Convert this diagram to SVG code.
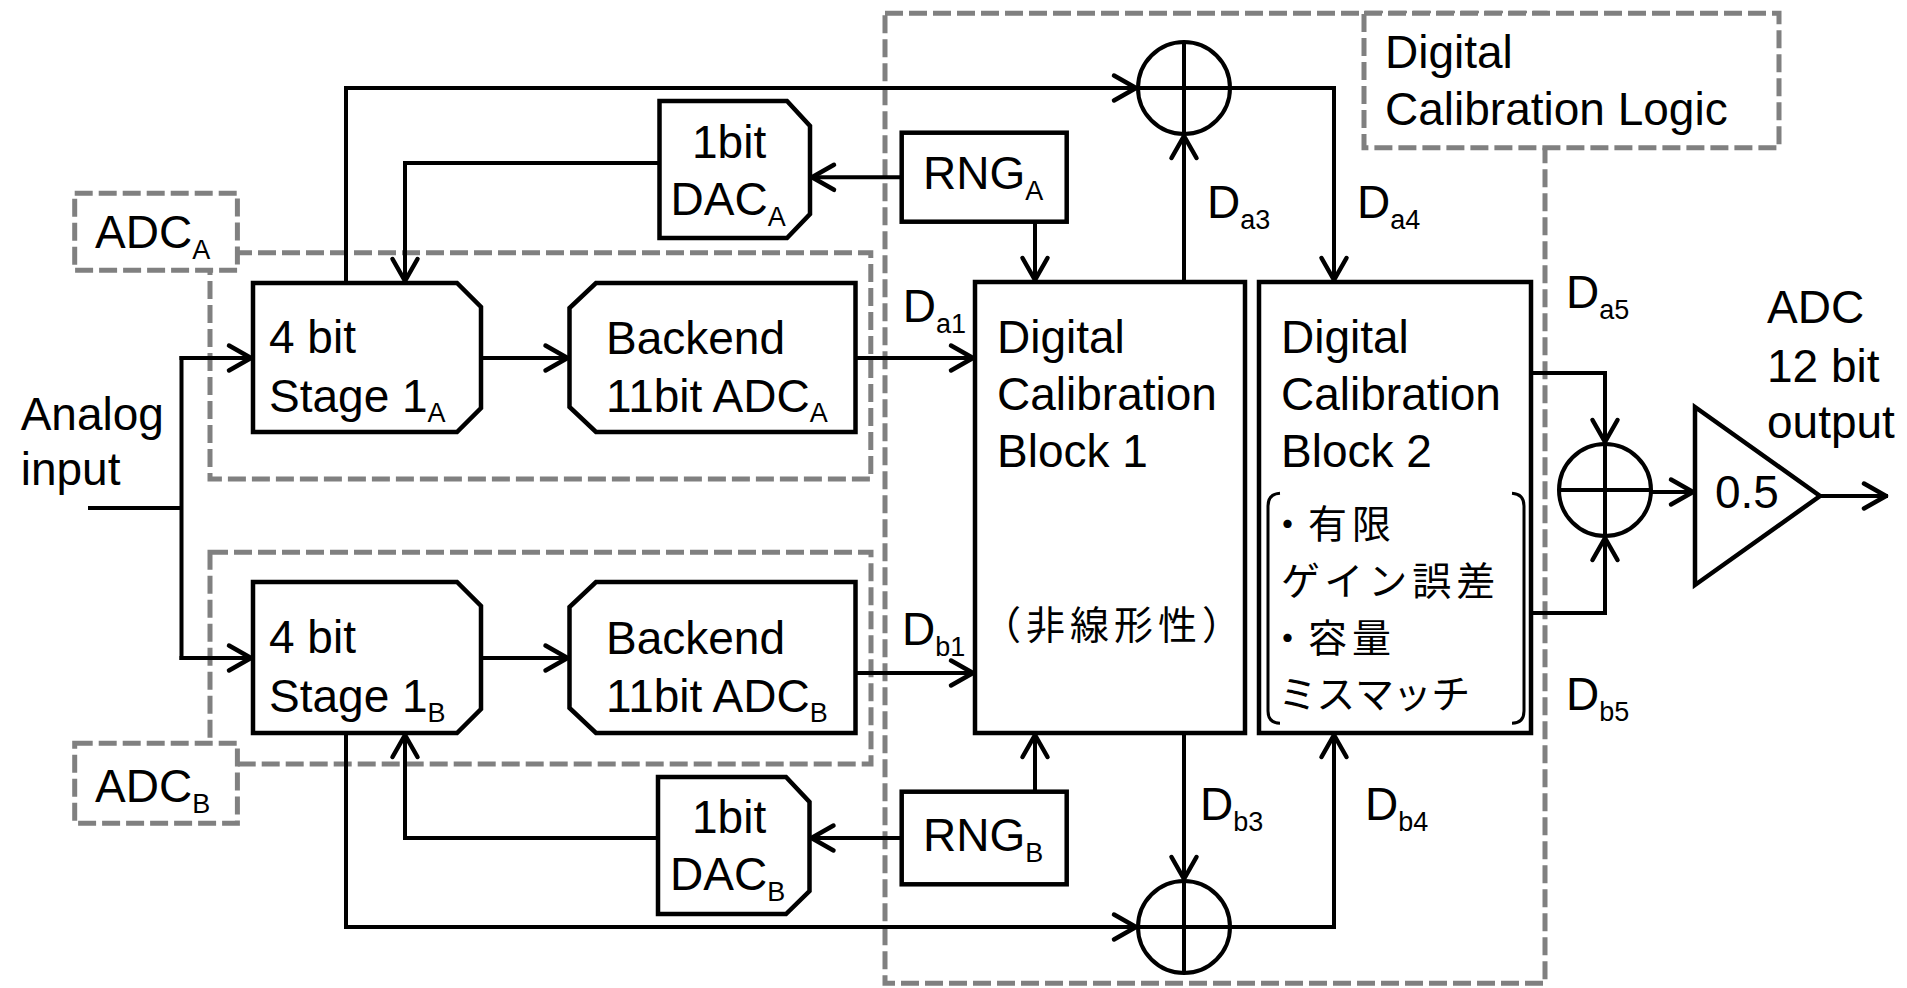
<svg xmlns="http://www.w3.org/2000/svg" width="1907" height="988" viewBox="0 0 1907 988">
<style>
.t{font-family:"Liberation Sans",Arial,sans-serif;font-size:46px;fill:#000}
.j{font-family:"Noto Sans CJK JP","Liberation Sans",sans-serif;font-size:39px;letter-spacing:5px;fill:#000}
.d{letter-spacing:0}
.s{font-size:27px}
.box{fill:#fff;stroke:#000;stroke-width:4.5;stroke-linejoin:miter}
.dash{fill:none;stroke:#808080;stroke-width:5;stroke-dasharray:18 6}
.dashw{fill:#fff;stroke:#808080;stroke-width:5;stroke-dasharray:18 6}
.c{fill:none;stroke:#000;stroke-width:4}
.a{fill:none;stroke:#000;stroke-width:4;marker-end:url(#arr)}
.br{fill:none;stroke:#000;stroke-width:3}
</style>
<defs>
<marker id="arr" markerUnits="userSpaceOnUse" markerWidth="40" markerHeight="40" viewBox="-30 -20 40 40" refX="2" refY="0" orient="auto">
<path d="M-22,-12.5 L0,0 L-22,12.5" fill="none" stroke="#000" stroke-width="4.5" stroke-linecap="round" stroke-linejoin="round"/>
</marker>
</defs>
<rect width="1907" height="988" fill="#fff"/>

<g id="regions">
<rect class="dash" x="210" y="252.7" width="660.8" height="226.3"/>
<rect class="dash" x="210" y="552.3" width="661" height="211.7"/>
<rect class="dash" x="885" y="13.3" width="660" height="970"/>
<g id="label-adcA"><rect class="dashw" x="74.7" y="193.3" width="162.7" height="77"/>
<text class="t" x="95" y="248">ADC<tspan class="s" dy="11">A</tspan></text></g>
<g id="label-adcB"><rect class="dashw" x="74.7" y="743.3" width="162.7" height="80"/>
<text class="t" x="95" y="801.7">ADC<tspan class="s" dy="11">B</tspan></text></g>
<g id="label-dcl"><rect class="dashw" x="1364" y="13.3" width="415" height="134.4"/>
<text class="t" x="1385" y="68">Digital</text>
<text class="t" x="1385" y="125">Calibration Logic</text></g>
</g>

<g id="connectors">
<path class="c" d="M88,508 H181.5"/>
<path class="c" d="M181.5,356 V660"/>
<path class="a" d="M179.5,358 H253"/>
<path class="a" d="M179.5,658 H253"/>
<path class="a" d="M481,358 H569.5"/>
<path class="a" d="M855.5,358 H975"/>
<path class="a" d="M481,658 H569.5"/>
<path class="a" d="M855.5,673 H975"/>
<path class="a" d="M346,283 V88 H1138"/>
<path class="a" d="M659.5,163 H405 V283"/>
<path class="a" d="M901.7,177.3 H810"/>
<path class="a" d="M1035,221.7 V282"/>
<path class="a" d="M1184,282 V134"/>
<path class="a" d="M1230,88 H1334 V282"/>
<path class="a" d="M346,733 V927 H1138"/>
<path class="a" d="M658,838 H405 V733"/>
<path class="a" d="M901.7,838 H809.5"/>
<path class="a" d="M1035,791.7 V733"/>
<path class="a" d="M1184,733 V881"/>
<path class="a" d="M1230,927 H1334 V733"/>
<path class="a" d="M1531,373 H1605 V444"/>
<path class="a" d="M1531,613 H1605 V536"/>
<path class="a" d="M1651,492 H1695"/>
<path class="a" d="M1820,496 H1888"/>
</g>

<g id="stage1A"><path class="box" d="M253,283 H457 L481,307 V408 L457,432 H253 Z"/>
<text class="t" x="269" y="353">4 bit</text>
<text class="t" x="269" y="411.7">Stage 1<tspan class="s" dy="10">A</tspan></text></g>
<g id="backendA"><path class="box" d="M596,283 H855.5 V432 H596 L569.5,407 V308 Z"/>
<text class="t" x="606" y="354">Backend</text>
<text class="t" x="606" y="411.7">11bit ADC<tspan class="s" dy="10">A</tspan></text></g>
<g id="stage1B"><path class="box" d="M253,582 H457 L481,606 V709 L457,733 H253 Z"/>
<text class="t" x="269" y="653">4 bit</text>
<text class="t" x="269" y="711.7">Stage 1<tspan class="s" dy="10">B</tspan></text></g>
<g id="backendB"><path class="box" d="M596,582 H855.5 V733 H596 L569.5,708 V607 Z"/>
<text class="t" x="606" y="654">Backend</text>
<text class="t" x="606" y="711.7">11bit ADC<tspan class="s" dy="10">B</tspan></text></g>
<g id="dacA"><path class="box" d="M659.5,101 H787 L810,126 V214 L787,238 H659.5 Z"/>
<text class="t" x="692" y="158">1bit</text>
<text class="t" x="670.5" y="215">DAC<tspan class="s" dy="11">A</tspan></text></g>
<g id="dacB"><path class="box" d="M658,777 H786 L809.5,802 V891 L786,914 H658 Z"/>
<text class="t" x="692" y="833">1bit</text>
<text class="t" x="670" y="890">DAC<tspan class="s" dy="11">B</tspan></text></g>
<g id="rngA"><rect class="box" x="901.7" y="132.7" width="165" height="89"/>
<text class="t" x="923" y="189">RNG<tspan class="s" dy="11">A</tspan></text></g>
<g id="rngB"><rect class="box" x="901.7" y="791.7" width="165" height="92.6"/>
<text class="t" x="923" y="851">RNG<tspan class="s" dy="11">B</tspan></text></g>
<g id="dcb1"><rect class="box" x="975" y="282" width="270" height="451"/>
<text class="t" x="997" y="353">Digital</text>
<text class="t" x="997" y="410">Calibration</text>
<text class="t" x="997" y="467">Block 1</text>
<text class="j" x="982" y="639">（非線形性）</text></g>
<g id="dcb2"><rect class="box" x="1259" y="282" width="272" height="451"/>
<text class="t" x="1281" y="353">Digital</text>
<text class="t" x="1281" y="410">Calibration</text>
<text class="t" x="1281" y="467">Block 2</text>
<path class="br" d="M1280,493.3 Q1268,494 1268,506 V711 Q1268,723 1280,723.3"/>
<path class="br" d="M1512,493.3 Q1524,494 1524,506 V711 Q1524,723 1512,723.3"/>
<text class="j" y="538"><tspan class="d" x="1268">・</tspan><tspan x="1308">有限</tspan></text>
<text class="j" x="1281" y="595">ゲイン誤差</text>
<text class="j" y="651.5"><tspan class="d" x="1268">・</tspan><tspan x="1308">容量</tspan></text>
<text class="j" x="1281" y="708" style="font-feature-settings:'palt'">ミスマッチ</text></g>
<g id="adderA"><circle class="c" cx="1184" cy="88" r="46" fill="#fff"/><path class="c" d="M1138,88 H1230 M1184,42 V134"/></g>
<g id="adderB"><circle class="c" cx="1184" cy="927" r="46" fill="#fff"/><path class="c" d="M1138,927 H1230 M1184,881 V973"/></g>
<g id="adderOut"><circle class="c" cx="1605" cy="490" r="46" fill="#fff"/><path class="c" d="M1559,490 H1651 M1605,444 V536"/></g>
<g id="amp"><path class="box" d="M1695,407 L1820,496 L1695,585 Z" stroke-width="4"/>
<text class="t" x="1715" y="508">0.5</text></g>
<g id="output-label">
<text class="t" x="1767" y="323">ADC</text>
<text class="t" x="1767" y="381.7">12 bit</text>
<text class="t" x="1767" y="438.3">output</text></g>
<g id="input-label">
<text class="t" x="20.7" y="430">Analog</text>
<text class="t" x="20.7" y="485">input</text></g>
<g id="signal-labels">
<text class="t" x="902.7" y="321.7">D<tspan class="s" dy="11">a1</tspan></text>
<text class="t" x="902" y="645">D<tspan class="s" dy="11">b1</tspan></text>
<text class="t" x="1207" y="218">D<tspan class="s" dy="11">a3</tspan></text>
<text class="t" x="1357" y="218">D<tspan class="s" dy="11">a4</tspan></text>
<text class="t" x="1200" y="820">D<tspan class="s" dy="11">b3</tspan></text>
<text class="t" x="1365" y="820">D<tspan class="s" dy="11">b4</tspan></text>
<text class="t" x="1566" y="308">D<tspan class="s" dy="11">a5</tspan></text>
<text class="t" x="1566" y="710">D<tspan class="s" dy="11">b5</tspan></text>
</g>
</svg>
